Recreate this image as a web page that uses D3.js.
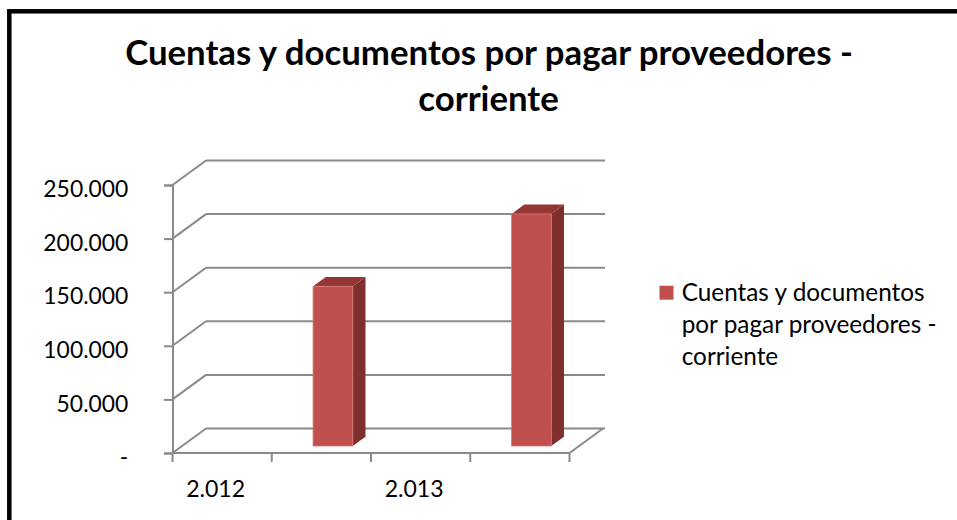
<!DOCTYPE html>
<html>
<head>
<meta charset="utf-8">
<script src="https://cdn.jsdelivr.net/npm/d3@7"></script>
<style>
  html, body { margin: 0; padding: 0; background: #fff; }
  svg { display: block; }
</style>
</head>
<body>
<svg id="chart" width="957" height="520"></svg>
<script>
// ---- data ----
const titleLines = ["Cuentas y documentos por pagar proveedores -", "corriente"];
const categories = ["2.012", "", "2.013", ""];
const seriesName = "Cuentas y documentos por pagar proveedores - corriente";
const legendLines = ["Cuentas y documentos", "por pagar proveedores -", "corriente"];
const values = [null, 149000, null, 216500];
const yTickValues = [0, 50000, 100000, 150000, 200000, 250000];
const yTickLabels = ["-", "50.000", "100.000", "150.000", "200.000", "250.000"];

// ---- layout ----
const W = 957, H = 520;
const svg = d3.select("#chart");
const FONT = "Lato, 'Open Sans', sans-serif";
const gridColor = "#8a8a8a";
const depth = { dx: 33.5, dy: -24.5 };

svg.append("rect").attr("width", W).attr("height", H).attr("fill", "#fff");

const x = d3.scaleBand().domain(d3.range(categories.length)).range([172.5, 569.5]).padding(0);
const y = d3.scaleLinear().domain([0, 250000]).range([453, 185]);
const bw = x.bandwidth();
const xL = x.range()[0], xR = x.range()[1];

function fitSize(sel, target) {
  sel.attr("font-size", 100);
  const w = sel.node().getComputedTextLength();
  const s = 100 * target / w;
  sel.attr("font-size", s);
  return s;
}

// gridlines (back wall + side wall)
const grid = svg.append("g").attr("stroke", gridColor).attr("stroke-width", 2).attr("fill", "none");
yTickValues.forEach(v => {
  grid.append("line")
    .attr("x1", xL + depth.dx).attr("y1", y(v) + depth.dy)
    .attr("x2", xR + depth.dx + 2).attr("y2", y(v) + depth.dy);
  grid.append("line")
    .attr("x1", xL).attr("y1", y(v))
    .attr("x2", xL + depth.dx).attr("y2", y(v) + depth.dy);
});
// floor right edge
grid.append("line")
  .attr("x1", xR).attr("y1", y(0))
  .attr("x2", xR + depth.dx).attr("y2", y(0) + depth.dy);

// bars
const f0 = 0.285, fd = 0.38;
const barW = bw * 0.40;
const bars = svg.append("g");
values.forEach((v, i) => {
  if (v == null) return;
  const bx = x(i) + bw * 0.32 + f0 * depth.dx;
  const bottom = y(0) + f0 * depth.dy;
  const top = y(v) + f0 * depth.dy;
  const ddx = fd * depth.dx, ddy = fd * depth.dy;
  bars.append("polygon")
    .attr("points", [[bx + barW, top], [bx + barW + ddx, top + ddy], [bx + barW + ddx, bottom + ddy], [bx + barW, bottom]].join(" "))
    .attr("fill", "#7f2f2e");
  bars.append("polygon")
    .attr("points", [[bx, top], [bx + ddx, top + ddy], [bx + barW + ddx, top + ddy], [bx + barW, top]].join(" "))
    .attr("fill", "#943634");
  bars.append("rect")
    .attr("x", bx).attr("y", top).attr("width", barW).attr("height", bottom - top)
    .attr("fill", "#c0504d").attr("stroke", "#d57a77").attr("stroke-width", 0.8);
});

// y axis
const yAxis = svg.append("g")
  .attr("transform", `translate(${xL},0)`)
  .call(d3.axisLeft(y).tickValues(yTickValues)
    .tickFormat((d, i) => yTickLabels[i]).tickSize(8.5).tickPadding(35.7));
yAxis.selectAll("path, line").attr("stroke", gridColor).attr("stroke-width", 2);
yAxis.selectAll("text").attr("font-family", FONT).attr("fill", "#000").attr("dy", null)
  .attr("y", 11.7);
const ySize = fitSize(yAxis.selectAll("text").filter((d, i) => i === yTickValues.length - 1), 85);
yAxis.selectAll("text").attr("font-size", ySize);
yAxis.attr("font-size", null);

// category axis (front floor edge with ticks at band boundaries)
const xAxis = svg.append("g").attr("stroke", gridColor).attr("stroke-width", 2);
xAxis.append("line").attr("x1", xL - 1).attr("x2", xR).attr("y1", y(0)).attr("y2", y(0));
const bounds = categories.map((c, i) => x(i)).concat([xR]);
bounds.forEach(b => {
  xAxis.append("line").attr("x1", b).attr("x2", b).attr("y1", y(0)).attr("y2", y(0) + 9);
});
const catLabels = svg.append("g");
let catSize = null;
categories.forEach((c, i) => {
  if (!c) return;
  const t = catLabels.append("text")
    .attr("x", x(i) + bw / 2 - 6.5).attr("y", 496.5)
    .attr("text-anchor", "middle").attr("font-family", FONT).attr("fill", "#000")
    .text(c);
  if (catSize == null) catSize = fitSize(t, 59);
  else t.attr("font-size", catSize);
});

// title
const titleG = svg.append("g");
const t1 = titleG.append("text").attr("x", 489).attr("y", 64.5)
  .attr("text-anchor", "middle").attr("font-family", FONT).attr("font-weight", "bold")
  .attr("fill", "#000").text(titleLines[0]);
const tSize = fitSize(t1, 728);
titleG.append("text").attr("x", 488.5).attr("y", 110.7)
  .attr("text-anchor", "middle").attr("font-family", FONT).attr("font-weight", "bold")
  .attr("font-size", tSize).attr("fill", "#000").text(titleLines[1]);

// legend
const leg = svg.append("g");
leg.append("rect").attr("x", 659.5).attr("y", 285.7).attr("width", 14).attr("height", 14)
  .attr("fill", "#c0504d");
const legBase = [300.7, 333.2, 365.2];
const lt = legendLines.map((l, i) => leg.append("text")
  .attr("x", 681.7).attr("y", legBase[i]).attr("font-family", FONT)
  .attr("fill", "#000").text(l));
const lSize = fitSize(lt[0], 243);
lt.forEach(t => t.attr("font-size", lSize));

// chart border (only top/left visible)
svg.append("rect").attr("x", 9.3).attr("y", 11.3).attr("width", W + 20).attr("height", H + 20)
  .attr("fill", "none").attr("stroke", "#000").attr("stroke-width", 4.5);
</script>
</body>
</html>
